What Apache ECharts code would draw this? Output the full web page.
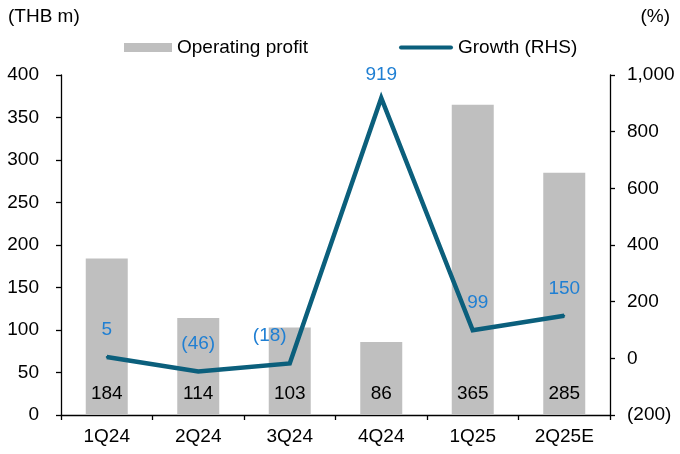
<!DOCTYPE html>
<html>
<head>
<meta charset="utf-8">
<script src="https://cdn.jsdelivr.net/npm/echarts@6/dist/echarts.min.js"></script>
<style>html,body{margin:0;padding:0;background:#fff;}#c{width:680px;height:454px;}</style>
</head>
<body>
<div id="c"></div>
<script>
var categories = ['1Q24', '2Q24', '3Q24', '4Q24', '1Q25', '2Q25E'];
var operatingProfit = [184, 114, 103, 86, 365, 285];
var growth = [5, -46, -18, 919, 99, 150];
var leftTicks = {min: 0, max: 400, interval: 50};
var rightTicks = {min: -200, max: 1000, interval: 200};

var FONT = '"Liberation Sans", Arial, sans-serif';
var FS = 19;
var LINE_COLOR = '#0b5f7c';
// label nudges (style only) keyed by category index
var labelOffsets = {2: [-20, 0], 3: [0, 4], 4: [5, 0]};
function fmtNum(v) {
  var s = Math.abs(v).toString().replace(/\B(?=(\d{3})+(?!\d))/g, ',');
  return v < 0 ? '(' + s + ')' : s;
}
var growthData = growth.map(function (v, i) {
  return labelOffsets[i] ? {value: v, label: {offset: labelOffsets[i]}} : v;
});
var chart = echarts.init(document.getElementById('c'), null, {renderer: 'canvas'});
chart.setOption({
  animation: false,
  backgroundColor: '#fff',
  textStyle: {fontFamily: FONT},
  grid: {left: 61, right: 70, top: 75, bottom: 39, containLabel: false},
  graphic: [
    {type: 'text', left: 8, top: 7, style: {text: '(THB m)', font: FS + 'px ' + FONT, fill: '#000'}},
    {type: 'text', right: 10, top: 7, style: {text: '(%)', font: FS + 'px ' + FONT, fill: '#000'}}
  ],
  legend: [
    {
      left: 124, top: 38, padding: 0, itemWidth: 48, itemHeight: 9, itemGap: 0,
      textStyle: {fontSize: FS, fontFamily: FONT, color: '#000'},
      data: [{name: 'Operating profit', icon: 'rect'}]
    },
    {
      left: 399, top: 38, padding: 0, itemWidth: 54, itemHeight: 9, itemGap: 0,
      textStyle: {fontSize: FS, fontFamily: FONT, color: '#000'},
      data: [{name: 'Growth (RHS)', icon: 'path://M2,0 L52,0 A2,2 0 0 1 52,4 L2,4 A2,2 0 0 1 2,0 Z', itemStyle: {color: LINE_COLOR, opacity: 1}}]
    }
  ],
  xAxis: {
    type: 'category', data: categories,
    axisLine: {lineStyle: {color: '#000', width: 1.3}},
    axisTick: {show: true, length: 5, alignWithLabel: false, lineStyle: {color: '#000', width: 1.3}},
    axisLabel: {color: '#000', fontSize: FS, fontFamily: FONT, margin: 12}
  },
  yAxis: [
    {
      type: 'value', min: leftTicks.min, max: leftTicks.max, interval: leftTicks.interval,
      position: 'left',
      axisLine: {show: true, lineStyle: {color: '#000', width: 1.3}},
      axisTick: {show: true, length: 5, lineStyle: {color: '#000', width: 1.3}},
      splitLine: {show: false},
      axisLabel: {color: '#000', fontSize: FS, fontFamily: FONT, margin: 22}
    },
    {
      type: 'value', min: rightTicks.min, max: rightTicks.max, interval: rightTicks.interval,
      position: 'right',
      axisLine: {show: true, lineStyle: {color: '#000', width: 1.3}},
      axisTick: {show: true, length: 5, lineStyle: {color: '#000', width: 1.3}},
      splitLine: {show: false},
      axisLabel: {color: '#000', fontSize: FS, fontFamily: FONT, margin: 17, formatter: fmtNum}
    }
  ],
  series: [
    {
      name: 'Operating profit', type: 'bar', data: operatingProfit, yAxisIndex: 0,
      barWidth: 42,
      itemStyle: {color: '#bfbfbf'},
      label: {show: true, position: 'insideBottom', distance: 12, color: '#000', fontSize: FS, fontFamily: FONT}
    },
    {
      name: 'Growth (RHS)', type: 'line', data: growthData, yAxisIndex: 1,
      symbol: 'circle', symbolSize: 2, showSymbol: true,
      lineStyle: {color: LINE_COLOR, width: 4.5, join: 'miter'},
      itemStyle: {color: LINE_COLOR},
      label: {show: true, position: 'top', distance: 17, color: '#1f7fd3', fontSize: FS, fontFamily: FONT, formatter: function (p) { return fmtNum(p.value); }},
      z: 5
    }
  ]
});
</script>
</body>
</html>
